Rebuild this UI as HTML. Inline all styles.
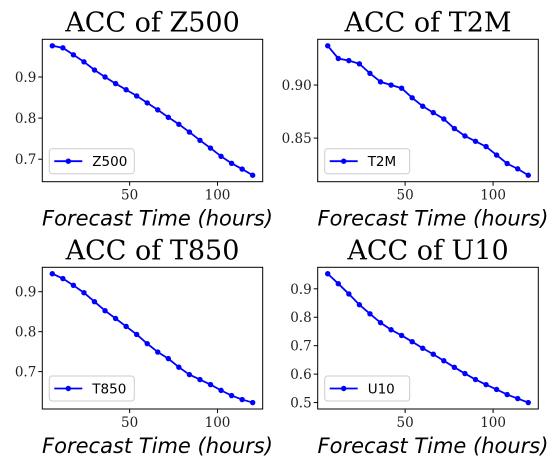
<!DOCTYPE html>
<html><head><meta charset="utf-8"><style>
html,body{margin:0;padding:0;background:#fff;}
svg{display:block;}
</style></head><body>
<svg id="chart" width="547" height="468" xmlns="http://www.w3.org/2000/svg"></svg>
<script>
const hours = [6,12,18,24,30,36,42,48,54,60,66,72,78,84,90,96,102,108,114,120];
const z500 = [0.976,0.971,0.954,0.937,0.917,0.900,0.884,0.869,0.854,0.837,0.820,0.802,0.785,0.766,0.746,0.727,0.707,0.690,0.676,0.661];
const t2m = [0.937,0.925,0.923,0.920,0.911,0.903,0.900,0.897,0.888,0.880,0.874,0.868,0.859,0.852,0.847,0.842,0.834,0.826,0.821,0.815];
const t850 = [0.945,0.933,0.916,0.8975,0.875,0.8525,0.833,0.813,0.793,0.770,0.749,0.7325,0.711,0.6925,0.680,0.6675,0.653,0.640,0.630,0.6225];
const u10 = [0.953,0.918,0.882,0.844,0.812,0.781,0.756,0.736,0.714,0.691,0.670,0.647,0.624,0.602,0.581,0.563,0.546,0.528,0.514,0.500];
const xTicks = [50,100];
const z500Ticks = ["0.7","0.8","0.9"];
const t2mTicks = ["0.85","0.90"];
const t850Ticks = ["0.7","0.8","0.9"];
const u10Ticks = ["0.5","0.6","0.7","0.8","0.9"];

const NS="http://www.w3.org/2000/svg";
const svg=document.getElementById('chart');
function mk(tag,attrs,parent){const e=document.createElementNS(NS,tag);for(const k in attrs)e.setAttribute(k,attrs[k]);(parent||svg).appendChild(e);return e;}

function panel(key,title,label,series,ticks,box){
  const g=mk('g',{});
  
  
  const [x0,y0,x1,y1]=box;
  const ymin=Math.min(...series),ymax=Math.max(...series),yr=ymax-ymin;
  const lo=ymin-0.05*yr,hi=ymax+0.05*yr;
  const hmin=Math.min(...hours),hmax=Math.max(...hours),hr=hmax-hmin;
  const xl=hmin-0.05*hr,xh=hmax+0.05*hr;
  const sx=v=>x0+(v-xl)/(xh-xl)*(x1-x0);
  const sy=v=>y1-(v-lo)/(hi-lo)*(y1-y0);
  const t=mk('text',{x:(x0+x1)/2,y:y0-8,'text-anchor':'middle','font-family':'DejaVu Serif, Liberation Serif, serif','font-size':'27',fill:'#000'},g);
  t.textContent=title;
  
  
  xTicks.forEach(v=>{
    const x=sx(v);
    const tk=mk('line',{x1:x,x2:x,y1:y1,y2:y1+4,stroke:'#000','stroke-width':1},g);
    
    
    const tl=mk('text',{x:x,y:y1+18,'text-anchor':'middle','font-family':'DejaVu Serif, Liberation Serif, serif','font-size':'13.5',fill:'#222'},g);
    tl.textContent=v;
    
    
  });
  ticks.forEach(s=>{
    const y=sy(parseFloat(s));
    const tk=mk('line',{x1:x0-4,x2:x0,y1:y,y2:y,stroke:'#000','stroke-width':1},g);
    
    
    const tl=mk('text',{x:x0-6,y:y+5,'text-anchor':'end','font-family':'DejaVu Serif, Liberation Serif, serif','font-size':'13.5',fill:'#222'},g);
    tl.textContent=s;
    
    
  });
  const xlab=mk('text',{x:(x0+x1)/2+5,y:y1+44,'text-anchor':'middle','font-family':'DejaVu Sans, Liberation Sans, sans-serif','font-style':'italic','font-size':'21',fill:'#000'},g);
  xlab.textContent='Forecast Time (hours)';
  
  
  const pts=hours.map((h,i)=>sx(h).toFixed(2)+','+sy(series[i]).toFixed(2)).join(' ');
  const line=mk('polyline',{points:pts,fill:'none',stroke:'#0000ff','stroke-width':1.8},g);
  
  
  hours.forEach((h,i)=>{
    const c=mk('circle',{cx:sx(h),cy:sy(series[i]),r:2.7,fill:'#0000ff'},g);
    
    
  });
  const fr=mk('rect',{x:x0,y:y0,width:x1-x0,height:y1-y0,fill:'none',stroke:'#000','stroke-width':1},g);
  
  
  const lg=mk('g',{},g);
  
  
  mk('rect',{x:x0+7,y:y1-33,width:85,height:25,rx:3,fill:'#fff','fill-opacity':0.8,stroke:'#ccc','stroke-width':1},lg);
  mk('line',{x1:x0+12,x2:x0+40,y1:y1-20.5,y2:y1-20.5,stroke:'#0000ff','stroke-width':1.8},lg);
  mk('circle',{cx:x0+26,cy:y1-20.5,r:2.7,fill:'#0000ff'},lg);
  const lt=mk('text',{x:x0+50,y:y1-15.5,'font-family':'DejaVu Sans, Liberation Sans, sans-serif','font-size':'13.5',fill:'#000'},lg);
  lt.textContent=label;
  
  
}
panel('z500','ACC of Z500','Z500',z500,z500Ticks,[42.3,39.3,262.7,181.7]);
panel('t2m','ACC of T2M','T2M',t2m,t2mTicks,[317.7,39.3,538.3,181.7]);
panel('t850','ACC of T850','T850',t850,t850Ticks,[42.3,267.3,262.7,409]);
panel('u10','ACC of U10','U10',u10,u10Ticks,[317.7,267.3,538.3,409]);
</script>
</body></html>
